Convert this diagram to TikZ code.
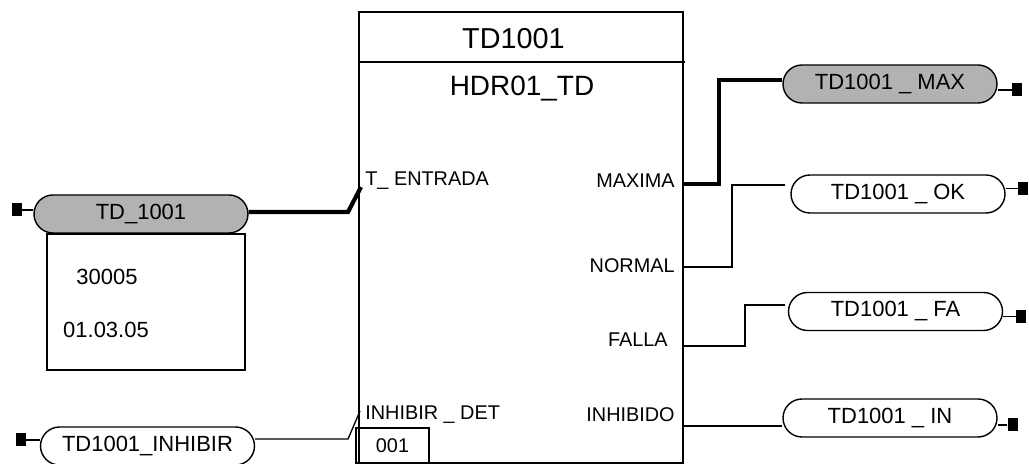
\documentclass[tikz,border=0pt]{standalone}
\usepackage{fontspec}
\setmainfont{Liberation Sans}
\usepackage{tikz}
\usetikzlibrary{shapes.misc, positioning}

\begin{document}
\begin{tikzpicture}[
  oval/.style={rounded rectangle, draw, line width=0.8pt, inner sep=0pt,
               minimum width=4.28cm, minimum height=0.76cm, font=\fontsize{12.5}{14}\selectfont},
  grayoval/.style={oval, fill=black!30},
  term/.style={rectangle, fill=black, inner sep=0pt, minimum width=0.2cm, minimum height=0.26cm},
  pinlabel/.style={inner sep=0pt, font=\fontsize{11.3}{13}\selectfont},
  plain/.style={inner sep=0pt, font=\fontsize{12.5}{14}\selectfont},
  wire/.style={line width=0.75pt},
  bus/.style={line width=2.4pt}
]
\useasboundingbox (0,0) rectangle (20.58,-9.28);

% function block
\node[rectangle, draw, line width=0.9pt, minimum width=6.48cm, minimum height=9.02cm,
      inner sep=0pt] (blk) at (10.42,-4.75) {};
\draw[line width=0.9pt] (blk.west |- 0,-1.24) -- (13.70,-1.24);
\node[inner sep=0pt, font=\fontsize{16.4}{18}\selectfont] (tag)  at (10.27,-0.78) {TD1001};
\node[inner sep=0pt, font=\fontsize{15.9}{18}\selectfont] (type) at (10.44,-1.77) {HDR01\_TD};

% pins
\node[pinlabel, anchor=west] (pent) at (7.30,-3.62) {T\_ ENTRADA};
\node[pinlabel, anchor=west] (pinh) at (7.30,-8.30) {INHIBIR \_ DET};
\node[pinlabel, anchor=east] (pmax) at (13.50,-3.62) {MAXIMA};
\node[pinlabel, anchor=east] (pnor) at (13.50,-5.32) {NORMAL};
\node[pinlabel, anchor=east] (pfal) at (13.36,-6.80) {FALLA};
\node[pinlabel, anchor=east] (pibd) at (13.50,-8.30) {INHIBIDO};
\node[rectangle, draw, line width=0.8pt, minimum width=1.46cm, minimum height=0.70cm,
      inner sep=0pt, font=\fontsize{11.3}{13}\selectfont] (ver) at (7.85,-8.91) {001};
\coordinate (tent) at (7.22,-3.74);
\coordinate (tinh) at (7.20,-8.22);
\coordinate (tmax) at (13.66,-3.68);
\coordinate (tnor) at (13.66,-5.34);
\coordinate (tfal) at (13.66,-6.92);
\coordinate (tibd) at (13.66,-8.52);

% inputs
\node[grayoval] (td)   at (2.82,-4.28) {TD\_1001};
\node[term]     (tdsq) at (0.34,-4.20) {};
\node[rectangle, draw, line width=0.8pt, minimum width=3.96cm, minimum height=2.72cm,
      inner sep=0pt] (info) at (2.92,-6.04) {};
\node[plain] (addr) at (2.14,-5.54) {30005};
\node[plain] (date) at (2.12,-6.60) {01.03.05};
\node[oval]  (inh)   at (2.95,-8.92) {TD1001\_INHIBIR};
\node[term]  (inhsq) at (0.42,-8.80) {};

% outputs
\node[grayoval] (max)   at (17.80,-1.68) {TD1001 \_ MAX};
\node[term]     (maxsq) at (20.34,-1.80) {};
\node[oval]     (ok)    at (17.96,-3.88) {TD1001 \_ OK};
\node[term]     (oksq)  at (20.46,-3.77) {};
\node[oval]     (fa)    at (17.91,-6.23) {TD1001 \_ FA};
\node[term]     (fasq)  at (20.42,-6.33) {};
\node[oval]     (in)    at (17.80,-8.36) {TD1001 \_ IN};
\node[term]     (insq)  at (20.25,-8.50) {};

% terminal stubs
\draw[wire] (tdsq.east)  -- (tdsq.east -| td.west);
\draw[wire] (inhsq.east) -- (inhsq.east -| inh.west);
\draw[wire] (max.east |- maxsq.west) -- (maxsq.west);
\draw[wire] (ok.east |- oksq.west)   -- (oksq.west);
\draw[wire] (fa.east |- fasq.west)   -- (fasq.west);
\draw[wire] (in.east |- insq.west)   -- (insq.west);

% connections
\draw[bus]  (td.east |- 0,-4.24) -- (6.96,-4.24) -- (tent);
\draw[wire] (inh.east |- 0,-8.78) -- (6.96,-8.78) -- (tinh);
\draw[bus]  (tmax) -- (14.38,-3.68) -- (14.38,-1.60) -- (max.west |- 0,-1.60);
\draw[wire] (tnor) -- (14.64,-5.34) -- (14.64,-3.70) -- (15.70,-3.70);
\draw[wire] (tfal) -- (14.90,-6.92) -- (14.90,-6.10) -- (15.70,-6.10);
\draw[wire] (tibd) -- (in.west |- tibd);
\end{tikzpicture}
\end{document}
